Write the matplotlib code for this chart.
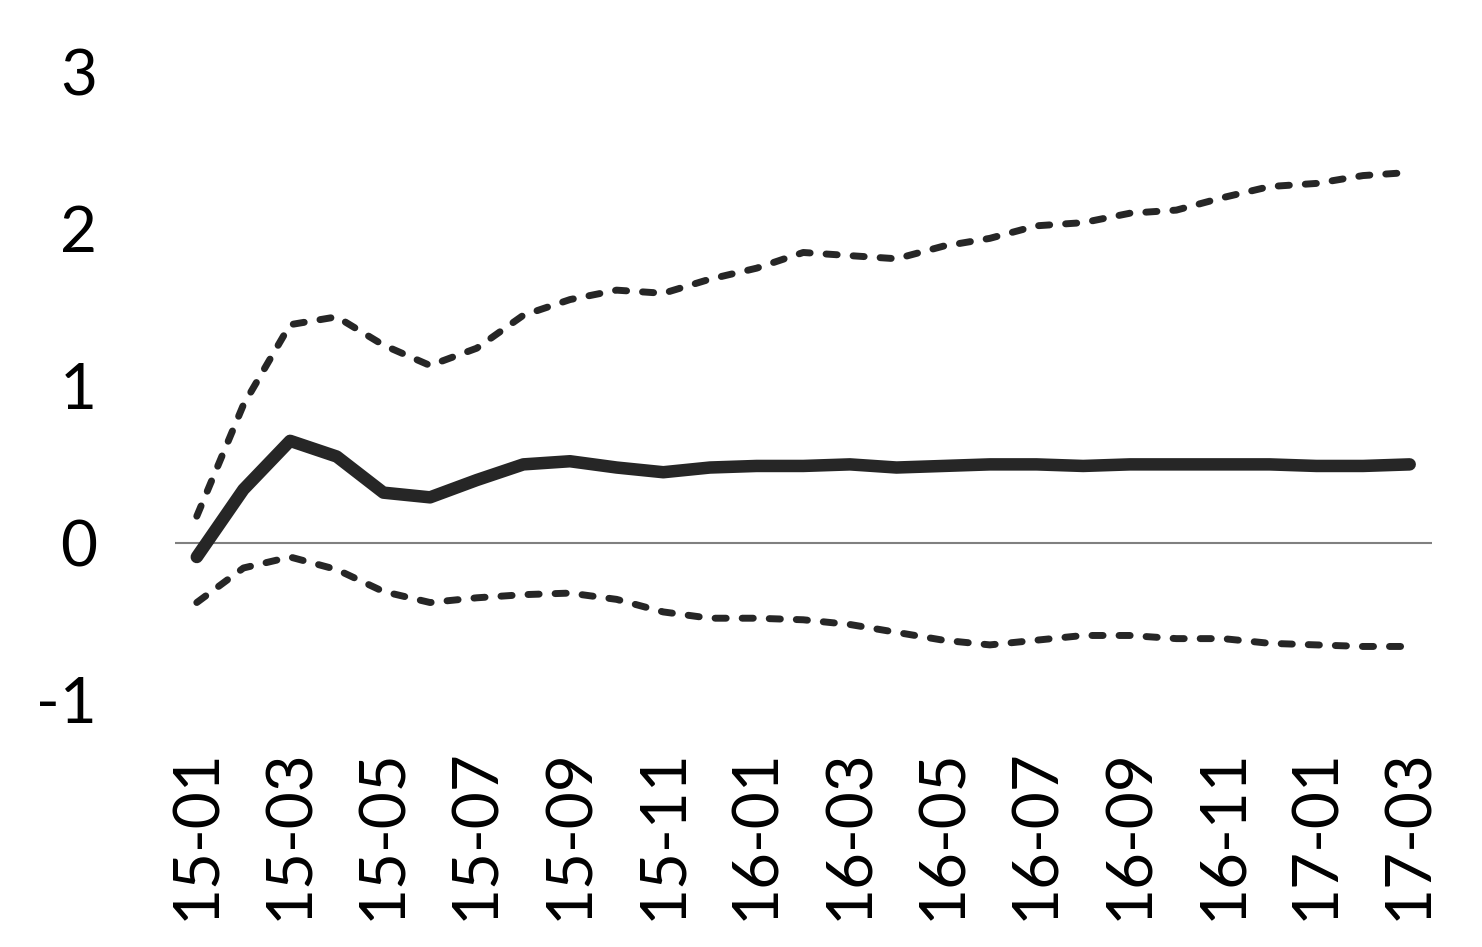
import matplotlib.pyplot as plt

plt.rcParams['font.family'] = ['Lato', 'DejaVu Sans']

# monthly, 15-01 .. 17-03
months = ['15-01', '15-02', '15-03', '15-04', '15-05', '15-06', '15-07', '15-08', '15-09',
          '15-10', '15-11', '15-12', '16-01', '16-02', '16-03', '16-04', '16-05', '16-06',
          '16-07', '16-08', '16-09', '16-10', '16-11', '16-12', '17-01', '17-02', '17-03']

central = [-0.09, 0.34, 0.65, 0.55, 0.32, 0.29, 0.40, 0.50, 0.52, 0.48, 0.45, 0.48, 0.49,
           0.49, 0.50, 0.48, 0.49, 0.50, 0.50, 0.49, 0.50, 0.50, 0.50, 0.50, 0.49, 0.49, 0.50]

upper = [0.17, 0.88, 1.39, 1.44, 1.26, 1.13, 1.24, 1.45, 1.55, 1.61, 1.59, 1.68, 1.75,
         1.85, 1.83, 1.81, 1.89, 1.94, 2.02, 2.04, 2.10, 2.12, 2.20, 2.27, 2.29, 2.34, 2.36]

lower = [-0.38, -0.16, -0.09, -0.17, -0.31, -0.38, -0.35, -0.33, -0.32, -0.36, -0.44, -0.48, -0.48,
         -0.49, -0.52, -0.57, -0.62, -0.65, -0.62, -0.59, -0.59, -0.61, -0.61, -0.64, -0.65, -0.66, -0.66]

yticks = [-1, 0, 1, 2, 3]

fig = plt.figure(figsize=(14.82, 9.47), dpi=100)
ax = fig.add_axes([0.118, 0.261, 0.848, 0.663])

x = list(range(len(months)))
col = '#262626'

ax.axhline(0, color='#808080', lw=1.5, zorder=1)
ax.plot(x, upper, color=col, lw=5, linestyle=(0, (1.6, 2.3)), dash_capstyle='round', zorder=2)
ax.plot(x, lower, color=col, lw=5, linestyle=(0, (1.6, 2.3)), dash_capstyle='round', zorder=2)
ax.plot(x, central, color=col, lw=9, solid_capstyle='round', solid_joinstyle='round', zorder=3)

ax.set_xlim(-0.47, len(months) - 1 + 0.47)
ax.set_ylim(-1, 3)
ax.set_yticks(yticks)
ax.set_yticklabels([str(v) for v in yticks])
ax.set_xticks(x[::2])
ax.set_xticklabels(months[::2], rotation=90)

ax.tick_params(axis='both', length=0, labelsize=46, colors='black')
ax.tick_params(axis='y', pad=56)
ax.tick_params(axis='x', pad=35)
for s in ax.spines.values():
    s.set_visible(False)

fig.savefig('out.png', dpi=100)
